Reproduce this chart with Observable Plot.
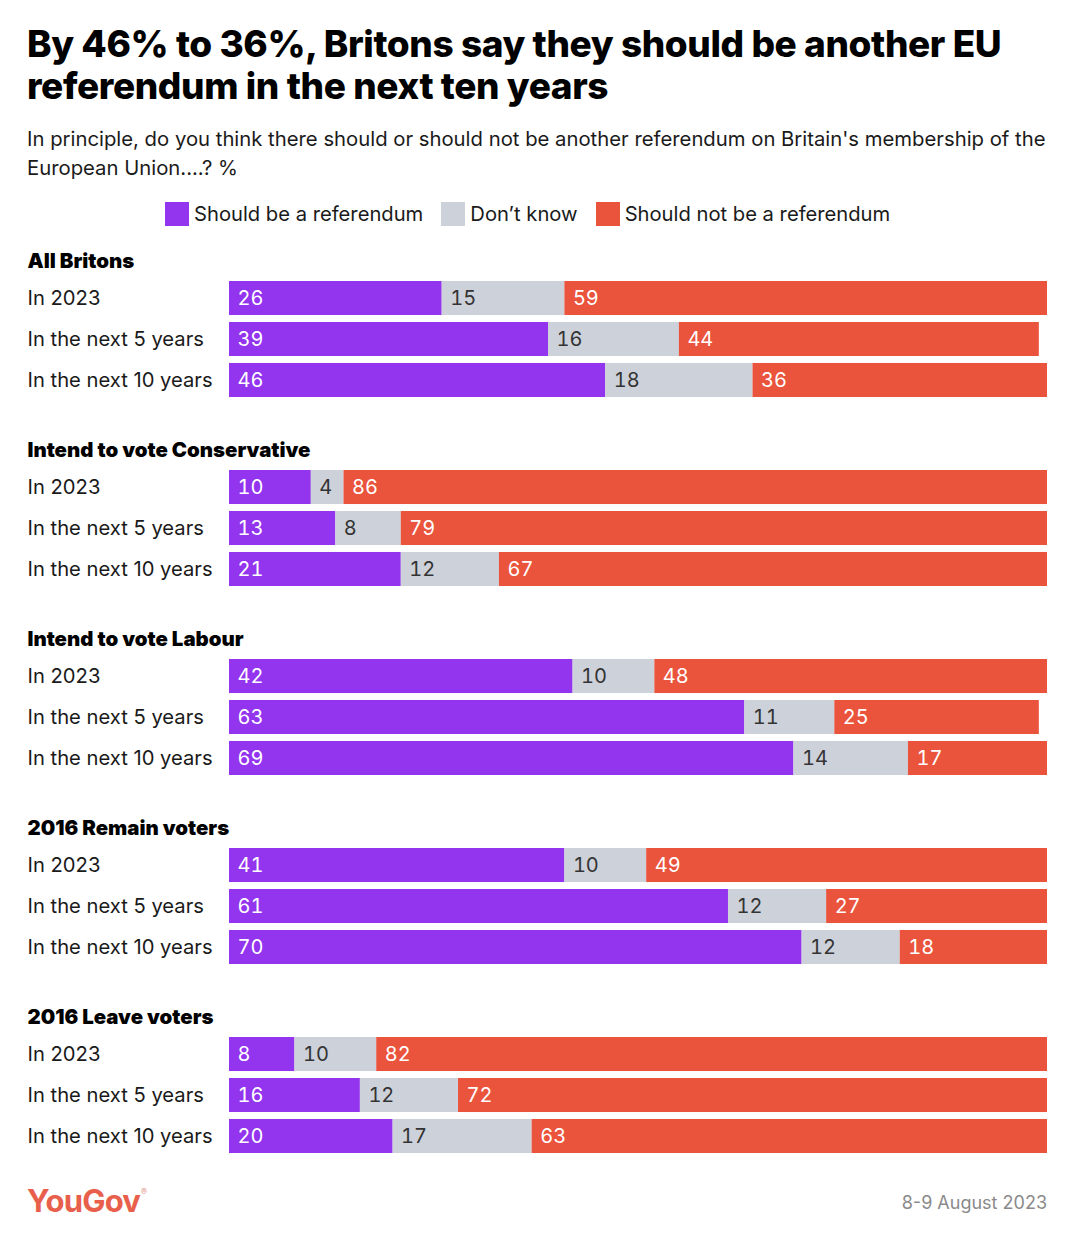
<!DOCTYPE html>
<html>
<head>
<meta charset="utf-8">
<script src="https://cdn.jsdelivr.net/npm/d3@7"></script>
<script src="https://cdn.jsdelivr.net/npm/@observablehq/plot@0.6"></script>
<style>
  html, body { margin: 0; padding: 0; background: #fff; }
  body { width: 1080px; height: 1244px; font-family: Inter, "Noto Sans", sans-serif; color: #111; }
  #wrap { position: relative; width: 1080px; height: 1244px; }
  #title { position: absolute; left: 27px; top: 23px; width: 1045px; font-size: 37px; font-weight: 800; line-height: 42px; letter-spacing: -0.4px; color: #000; margin: 0; }
  #subtitle { position: absolute; left: 27px; top: 124px; width: 1035px; font-size: 20.3px; line-height: 29px; color: #1a1a1a; margin: 0; }
  #legend { position: absolute; left: 165px; top: 201px; display: flex; align-items: center; font-size: 20.2px; color: #1a1a1a; }
  #legend .item { display: flex; align-items: center; margin-right: 18px; }
  #legend .sw { width: 24px; height: 24px; margin-right: 5px; }
  #chart { position: absolute; left: 0; top: 236px; }
  #logo { position: absolute; left: 27px; top: 1182px; font-size: 31px; font-weight: 700; color: #e8604c; letter-spacing: -0.8px; }
  #logo sup { font-size: 9px; color: #e8a89e; vertical-align: top; position: relative; top: 4px; margin-left: 1px; }
  #date { position: absolute; right: 33px; top: 1192px; font-size: 18px; color: #8a8a8a; }
</style>
</head>
<body>
<div id="wrap">
  <h1 id="title"></h1>
  <p id="subtitle"></p>
  <div id="legend"></div>
  <div id="chart"></div>
  <div id="logo">YouGov<sup>®</sup></div>
  <div id="date"></div>
</div>
<script>
const titleText = "By 46% to 36%, Britons say they should be another EU referendum in the next ten years";
const subtitleText = "In principle, do you think there should or should not be another referendum on Britain's membership of the European Union....? %";
const dateText = "8-9 August 2023";

const groups = ["All Britons", "Intend to vote Conservative", "Intend to vote Labour", "2016 Remain voters", "2016 Leave voters"];
const periods = ["In 2023", "In the next 5 years", "In the next 10 years"];
const categories = ["Should be a referendum", "Don’t know", "Should not be a referendum"];
const colors = ["#9334ee", "#cdd1d9", "#ea533c"];
const labelColors = ["#ffffff", "#333333", "#ffffff"];

const shouldBe  = [[26, 39, 46], [10, 13, 21], [42, 63, 69], [41, 61, 70], [8, 16, 20]];
const dontKnow  = [[15, 16, 18], [4, 8, 12],   [10, 11, 14], [10, 12, 12], [10, 12, 17]];
const shouldNot = [[59, 44, 36], [86, 79, 67], [48, 25, 17], [49, 27, 18], [82, 72, 63]];

document.getElementById("title").textContent = titleText;
document.getElementById("subtitle").textContent = subtitleText;
document.getElementById("date").textContent = dateText;

const legend = document.getElementById("legend");
categories.forEach((c, i) => {
  const item = document.createElement("div");
  item.className = "item";
  const sw = document.createElement("div");
  sw.className = "sw";
  sw.style.background = colors[i];
  const t = document.createElement("span");
  t.textContent = c;
  item.appendChild(sw); item.appendChild(t);
  legend.appendChild(item);
});

const series = [shouldBe, dontKnow, shouldNot];
const data = [];
groups.forEach((g, gi) => {
  periods.forEach((p, pi) => {
    categories.forEach((c, ci) => {
      data.push({group: g, period: p, cat: c, ci, value: series[ci][gi][pi]});
    });
  });
});

const labelMark = (ci) => Plot.text(data, Plot.filter(d => d.ci === ci, Plot.stackX1({
  x: "value", y: "period", fy: "group", text: "value",
  textAnchor: "start", dx: 8, fill: labelColors[ci], fontSize: 20
})));

const chart = Plot.plot({
  width: 1080,
  height: 924,
  marginLeft: 229,
  marginRight: 33,
  marginTop: 8,
  marginBottom: 7,
  style: {fontFamily: "Inter, 'Noto Sans', sans-serif", fontSize: "20px", background: "transparent"},
  x: {domain: [0, 100], axis: null},
  y: {domain: periods, axis: null, paddingInner: 0.17, paddingOuter: 0, insetTop: 37, round: false},
  fy: {domain: groups, axis: null, paddingInner: 0.1905, paddingOuter: 0, round: false},
  color: {domain: categories, range: colors},
  marks: [
    Plot.barX(data, Plot.stackX({x: "value", y: "period", fy: "group", fill: "cat", inset: 0})),
    labelMark(0),
    labelMark(1),
    labelMark(2),
    Plot.text(data.filter(d => d.ci === 0), {
      y: "period", fy: "group", text: "period", frameAnchor: "left",
      textAnchor: "start", dx: -202, fill: "#1a1a1a", fontSize: 20.2
    }),
    Plot.text(groups, {
      fy: d => d, text: d => d, frameAnchor: "top-left",
      textAnchor: "start", lineAnchor: "middle", dx: -202, dy: 17,
      fill: "#000", fontWeight: 900, fontSize: 20.4
    })
  ]
});
document.getElementById("chart").appendChild(chart);
</script>
</body>
</html>
